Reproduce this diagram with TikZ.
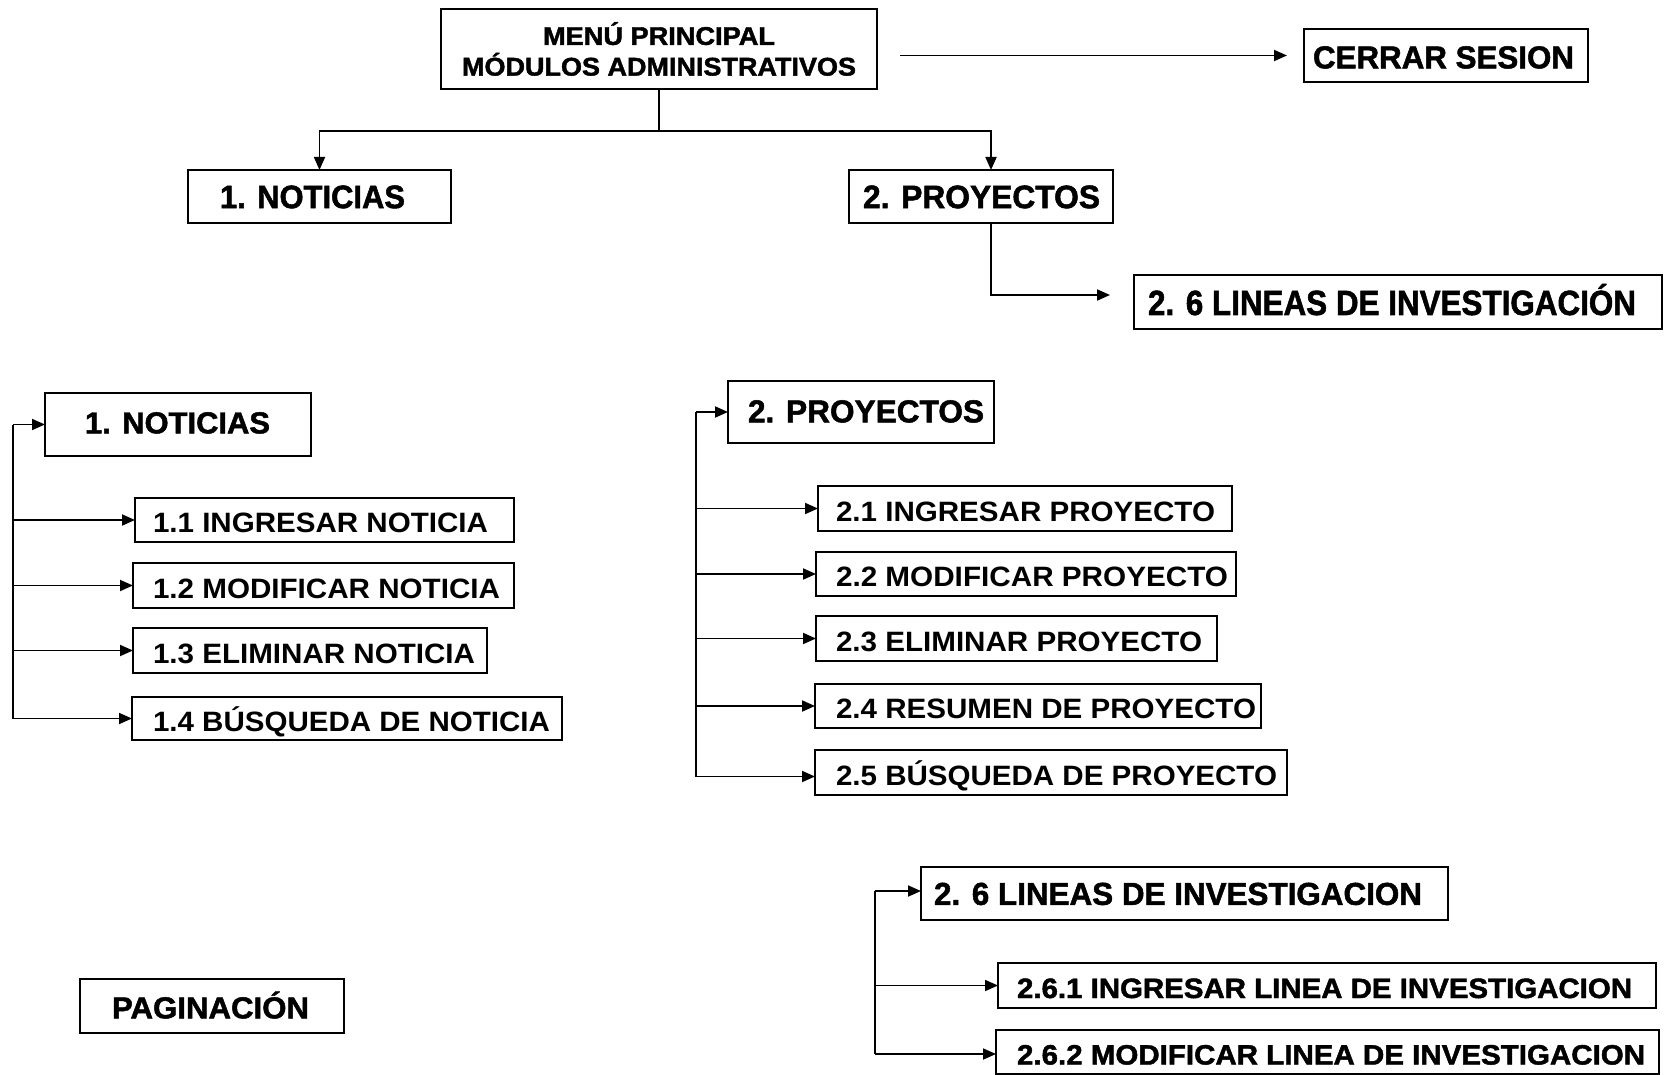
\documentclass[tikz,border=0pt]{standalone}
\usepackage{graphicx}
\usepackage{fontspec}
\setmainfont{Liberation Sans}
\newfontfamily\hvyfont[BoldFeatures={FakeBold=1.6}]{Liberation Sans}
\usetikzlibrary{arrows.meta}
\newcommand{\fitt}[3]{\resizebox{#1pt}{\height}{\fontsize{#2}{#2}\selectfont\bfseries #3}}
\newcommand{\fith}[3]{\resizebox{#1pt}{\height}{\fontsize{#2}{#2}\hvyfont\bfseries #3}}
\newcommand{\bxt}[5]{\makebox[#1pt][l]{\hspace*{#2pt}\fitt{#3}{#4}{#5}}}
\newcommand{\bxh}[5]{\makebox[#1pt][l]{\hspace*{#2pt}\fith{#3}{#4}{#5}}}
\tikzset{
  bxb/.style={draw, line width=2pt, rectangle, anchor=north west, inner sep=0pt, outer sep=0pt},
  bx/.style={bxb, text depth=0pt},
  ln/.style={line width=1.8pt},
  arr/.style={line width=1.8pt, -{Triangle[length=13pt,width=11pt]}},
}
\begin{document}
\begin{tikzpicture}[x=1pt,y=-1pt]
\useasboundingbox (0,0) rectangle (1670,1075);

% top level
\node[bxb, minimum width=436pt, minimum height=80pt, align=center, font=\fontsize{25.6}{30.7}\selectfont] (menu) at (441,9)
  {\fith{232}{25.6}{MENÚ PRINCIPAL}\\\fith{394}{25.6}{MÓDULOS ADMINISTRATIVOS}};
\node[bx, minimum height=53pt, text height=25.7pt] (cerrar) at (1304,29) {\bxh{284}{9}{261}{31.7}{CERRAR SESION}};
\node[bx, minimum height=53pt, text height=23.3pt] (n1) at (188,170) {\bxh{263}{32}{185}{32.5}{1. NOTICIAS}};
\node[bx, minimum height=53pt, text height=23.3pt] (p1) at (849,170) {\bxh{264}{14}{237}{32.5}{2. PROYECTOS}};
\node[bx, minimum height=54pt, text height=26pt] (l1) at (1134,275) {\bxh{528}{14}{488}{35}{2. 6 LINEAS DE INVESTIGACIÓN}};

% noticias section
\node[bx, minimum height=63pt, text height=17.7pt] (n2) at (45,393) {\bxh{266}{40}{185}{30.3}{1. NOTICIAS}};
\node[bx, minimum height=44pt, text height=25pt] (n11) at (135,498) {\bxt{379}{18}{335}{28}{1.1 INGRESAR NOTICIA}};
\node[bx, minimum height=45pt, text height=25pt] (n12) at (133,563) {\bxt{381}{20}{347}{28}{1.2 MODIFICAR NOTICIA}};
\node[bx, minimum height=45pt, text height=25pt] (n13) at (133,628) {\bxt{354}{20}{322}{28}{1.3 ELIMINAR NOTICIA}};
\node[bx, minimum height=43pt, text height=25pt] (n14) at (132,697) {\bxt{430}{21}{397}{28}{1.4 BÚSQUEDA DE NOTICIA}};

% proyectos section
\node[bx, minimum height=62pt, text height=20.7pt] (p2) at (728,381) {\bxh{266}{20}{236}{31.7}{2. PROYECTOS}};
\node[bx, minimum height=45pt, text height=25pt] (p21) at (818,486) {\bxt{414}{18}{379}{28}{2.1 INGRESAR PROYECTO}};
\node[bx, minimum height=44pt, text height=25pt] (p22) at (816,552) {\bxt{420}{20}{392}{28}{2.2 MODIFICAR PROYECTO}};
\node[bx, minimum height=45pt, text height=25pt] (p23) at (816,616) {\bxt{401}{20}{366}{28}{2.3 ELIMINAR PROYECTO}};
\node[bx, minimum height=44pt, text height=25pt] (p24) at (815,684) {\bxt{446}{21}{420}{28}{2.4 RESUMEN DE PROYECTO}};
\node[bx, minimum height=45pt, text height=25pt] (p25) at (815,750) {\bxt{472}{21}{441}{28}{2.5 BÚSQUEDA DE PROYECTO}};

% lineas section
\node[bx, minimum height=53pt, text height=22.7pt] (l2) at (921,867) {\bxh{527}{13}{488}{31.7}{2. 6 LINEAS DE INVESTIGACION}};
\node[bx, minimum height=45pt, text height=25pt] (l261) at (998,963) {\bxh{658}{19}{615}{28}{2.6.1 INGRESAR LINEA DE INVESTIGACION}};
\node[bx, minimum height=44pt, text height=25pt] (l262) at (996,1030) {\bxh{663}{21}{628}{28}{2.6.2 MODIFICAR LINEA DE INVESTIGACION}};

% paginacion
\node[bx, minimum height=54pt, text height=24.7pt] (pag) at (80,979) {\bxh{264}{32}{197}{30.3}{PAGINACIÓN}};

% top connectors
\coordinate (j) at (659,131);
\draw[ln] (menu.south) -- (j);
\draw[arr] (j) -| (n1.north);
\draw[arr] (j) -| ([xshift=10pt]p1.north);
\draw[arr, shorten <=23pt, shorten >=17pt] (menu.east |- cerrar.west) -- (cerrar.west);
\draw[arr, shorten >=24pt] ([xshift=10pt]p1.south) |- ([yshift=7pt]l1.west);

% noticias bus
\coordinate (nb) at (13,0);
\draw[ln] (nb |- n2.west) -- (nb |- n14.west);
\foreach \n in {n2,n11,n12,n13,n14}{\draw[arr] (nb |- \n.west) -- (\n.west);}

% proyectos bus
\coordinate (pb) at (696,0);
\coordinate (p25a) at ([yshift=-4pt]p25.west);
\draw[ln] (pb |- p2.west) -- (pb |- p25a);
\foreach \n in {p2,p21,p22,p23,p24}{\draw[arr] (pb |- \n.west) -- (\n.west);}
\draw[arr] (pb |- p25a) -- (p25a);

% lineas bus
\coordinate (lb) at (875,0);
\coordinate (l2a) at ([yshift=2.5pt]l2.west);
\coordinate (l262a) at ([yshift=-2pt]l262.west);
\draw[ln] (lb |- l2a) -- (lb |- l262a);
\draw[arr] (lb |- l2a) -- (l2a);
\draw[arr] (lb |- l261.west) -- (l261.west);
\draw[arr] (lb |- l262a) -- (l262a);
\end{tikzpicture}
\end{document}
